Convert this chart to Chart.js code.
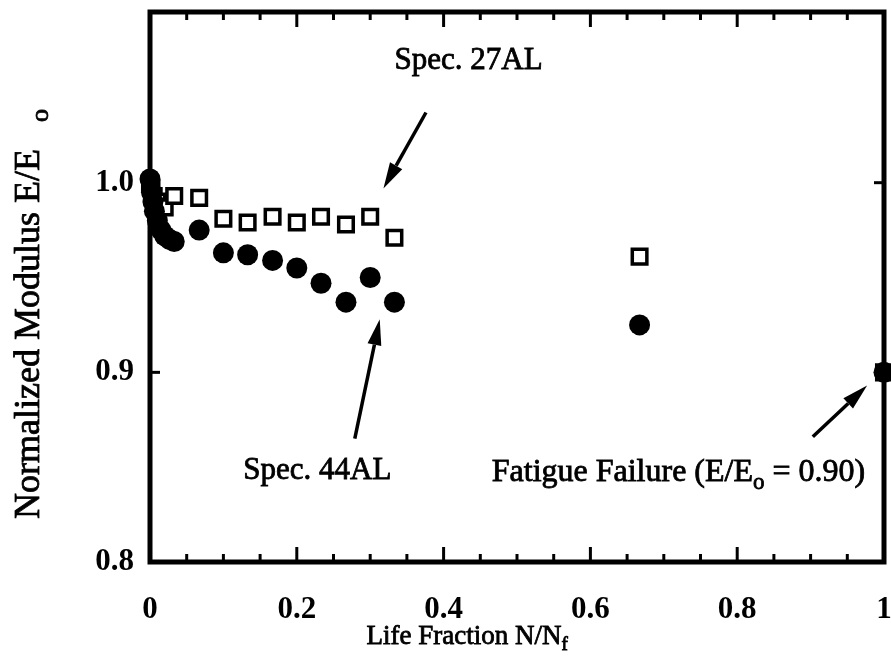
<!DOCTYPE html>
<html>
<head>
<meta charset="utf-8">
<script src="https://cdn.jsdelivr.net/npm/chart.js@4.4.1/dist/chart.umd.min.js"></script>
<style>
  html, body { margin: 0; padding: 0; background: #fff; overflow: hidden; }
  canvas { display: block; }
</style>
</head>
<body>
<canvas id="c" width="891" height="662" style="width:891px;height:662px"></canvas>
<script>
// Spec. 27AL (open squares)
const lifeFraction27 = [0, 0.002, 0.005, 0.010, 0.020, 0.033, 0.067, 0.100, 0.133, 0.167, 0.200, 0.233, 0.267, 0.300, 0.333, 0.667, 1.0];
const modulus27      = [1.000, 0.997, 0.993, 0.990, 0.987, 0.993, 0.992, 0.981, 0.979, 0.982, 0.979, 0.982, 0.978, 0.982, 0.971, 0.961, 0.900];

// Spec. 44AL (filled circles)
const lifeFraction44 = [0, 0.002, 0.004, 0.006, 0.010, 0.015, 0.020, 0.027, 0.033, 0.067, 0.100, 0.133, 0.167, 0.200, 0.233, 0.267, 0.300, 0.333, 0.667, 1.0];
const modulus44      = [1.002, 0.995, 0.990, 0.985, 0.980, 0.975, 0.972, 0.970, 0.969, 0.975, 0.963, 0.962, 0.959, 0.955, 0.947, 0.937, 0.950, 0.937, 0.925, 0.900];

const xTicks = [0, 0.2, 0.4, 0.6, 0.8, 1];
const xTickLabels = ['0', '0.2', '0.4', '0.6', '0.8', '1'];
const yTicks = [0.8, 0.9, 1.0];

const SERIF = '"Liberation Serif", "Times New Roman", serif';

function toPoints(xs, ys) { return xs.map((v, i) => ({ x: v, y: ys[i] })); }

// Inked serif text with optional subscript runs: parts = [[text, isSub], ...]
function drawRuns(ctx, parts, cx, cy, size) {
  const subSize = Math.round(size * 0.72);
  let total = 0;
  parts.forEach(([t, sub]) => {
    ctx.font = `${sub ? subSize : size}px ${SERIF}`;
    total += ctx.measureText(t).width;
  });
  let x = cx - total / 2;
  ctx.textBaseline = 'middle';
  ctx.textAlign = 'left';
  parts.forEach(([t, sub]) => {
    ctx.font = `${sub ? subSize : size}px ${SERIF}`;
    const yy = sub ? cy + size * 0.3 : cy;
    ctx.fillText(t, x, yy);
    ctx.strokeText(t, x, yy);
    x += ctx.measureText(t).width;
  });
}

function arrow(ctx, x1, y1, x2, y2) {
  const ang = Math.atan2(y2 - y1, x2 - x1);
  const head = 26, half = 7;
  const bx = x2 - head * Math.cos(ang), by = y2 - head * Math.sin(ang);
  ctx.lineWidth = 3.5;
  ctx.beginPath(); ctx.moveTo(x1, y1); ctx.lineTo(bx, by); ctx.stroke();
  ctx.beginPath();
  ctx.moveTo(x2, y2);
  ctx.lineTo(bx + half * Math.sin(ang), by - half * Math.cos(ang));
  ctx.lineTo(bx - half * Math.sin(ang), by + half * Math.cos(ang));
  ctx.closePath(); ctx.fill();
}

// Heavy box frame with inward tick marks and x tick labels
const framePlugin = {
  id: 'frame',
  afterDatasetsDraw(chart) {
    const { ctx, chartArea: a, scales: { x, y } } = chart;
    ctx.save();
    ctx.strokeStyle = '#000';
    ctx.fillStyle = '#000';
    ctx.lineCap = 'butt';
    ctx.lineWidth = 3;
    const seg = (x1, y1, x2, y2) => { ctx.beginPath(); ctx.moveTo(x1, y1); ctx.lineTo(x2, y2); ctx.stroke(); };
    for (let i = 0; i <= 20; i++) {
      const px = x.getPixelForValue(i * 0.05);
      const len = i % 4 === 0 ? 15 : 8;
      seg(px, a.bottom, px, a.bottom - len);
      seg(px, a.top, px, a.top + len);
    }
    yTicks.forEach(v => {
      const py = y.getPixelForValue(v);
      seg(a.left, py, a.left + 10, py);
      seg(a.right, py, a.right - 10, py);
    });
    ctx.lineWidth = 5;
    ctx.strokeRect(a.left, a.top, a.right - a.left, a.bottom - a.top);

    ctx.font = `bold 31px ${SERIF}`;
    ctx.textAlign = 'center';
    ctx.textBaseline = 'middle';
    xTicks.forEach((v, i) => ctx.fillText(xTickLabels[i], x.getPixelForValue(v), a.bottom + 48));
    ctx.restore();
  }
};

// Axis titles and callouts
const notesPlugin = {
  id: 'notes',
  afterDraw(chart) {
    const { ctx, scales: { x, y } } = chart;
    ctx.save();
    ctx.fillStyle = '#000';
    ctx.strokeStyle = '#000';
    ctx.lineWidth = 0.8;

    // x-axis title
    drawRuns(ctx, [['Life Fraction N/N', false], ['f', true]], x.getPixelForValue(0.432), 637, 27);

    // y-axis title (rotated)
    ctx.save();
    ctx.translate(30, 314);
    ctx.rotate(-Math.PI / 2);
    drawRuns(ctx, [['Normalized Modulus E/E   ', false], ['o', true]], 0, 0, 36);
    ctx.restore();

    // callouts
    ctx.lineWidth = 0.8;
    drawRuns(ctx, [['Spec. 27AL', false]], x.getPixelForValue(0.434), y.getPixelForValue(1.064), 31);
    drawRuns(ctx, [['Spec. 44AL', false]], x.getPixelForValue(0.228), y.getPixelForValue(0.848), 31);
    drawRuns(ctx, [['Fatigue Failure (E/E', false], ['o', true], [' = 0.90)', false]],
      x.getPixelForValue(0.72), y.getPixelForValue(0.847), 32);

    arrow(ctx, x.getPixelForValue(0.376), y.getPixelForValue(1.037), x.getPixelForValue(0.318), y.getPixelForValue(0.997));
    arrow(ctx, x.getPixelForValue(0.279), y.getPixelForValue(0.865), x.getPixelForValue(0.313), y.getPixelForValue(0.928));
    arrow(ctx, x.getPixelForValue(0.903), y.getPixelForValue(0.866), x.getPixelForValue(0.977), y.getPixelForValue(0.893));
    ctx.restore();
  }
};

new Chart(document.getElementById('c'), {
  type: 'scatter',
  data: {
    datasets: [
      {
        label: 'Spec. 44AL',
        data: toPoints(lifeFraction44, modulus44),
        pointStyle: 'circle',
        pointRadius: 10.5,
        backgroundColor: '#000',
        borderColor: '#000',
        borderWidth: 0,
        clip: false
      },
      {
        label: 'Spec. 27AL',
        data: toPoints(lifeFraction27, modulus27),
        pointStyle: 'rect',
        pointRadius: 10.3,
        backgroundColor: '#fff',
        borderColor: '#000',
        borderWidth: 3.5,
        clip: false
      }
    ]
  },
  options: {
    responsive: false,
    animation: false,
    devicePixelRatio: 1,
    layout: { autoPadding: false, padding: { top: 12, right: 7, left: 0, bottom: 0 } },
    plugins: { legend: { display: false }, tooltip: { enabled: false } },
    scales: {
      x: {
        type: 'linear', min: 0, max: 1,
        grid: { display: false }, border: { display: false },
        ticks: { display: false },
        afterFit: s => { s.height = 100; s.paddingLeft = 0; s.paddingRight = 0; }
      },
      y: {
        type: 'linear', min: 0.8, max: 1.09,
        grid: { display: false }, border: { display: false },
        afterBuildTicks: s => { s.ticks = yTicks.map(v => ({ value: v })); },
        afterFit: s => { s.width = 150; s.paddingTop = 0; s.paddingBottom = 0; },
        ticks: {
          padding: 8, color: '#000',
          font: { family: SERIF, size: 31, weight: 'bold' },
          callback: v => v.toFixed(1)
        }
      }
    }
  },
  plugins: [framePlugin, notesPlugin]
});
</script>
</body>
</html>
